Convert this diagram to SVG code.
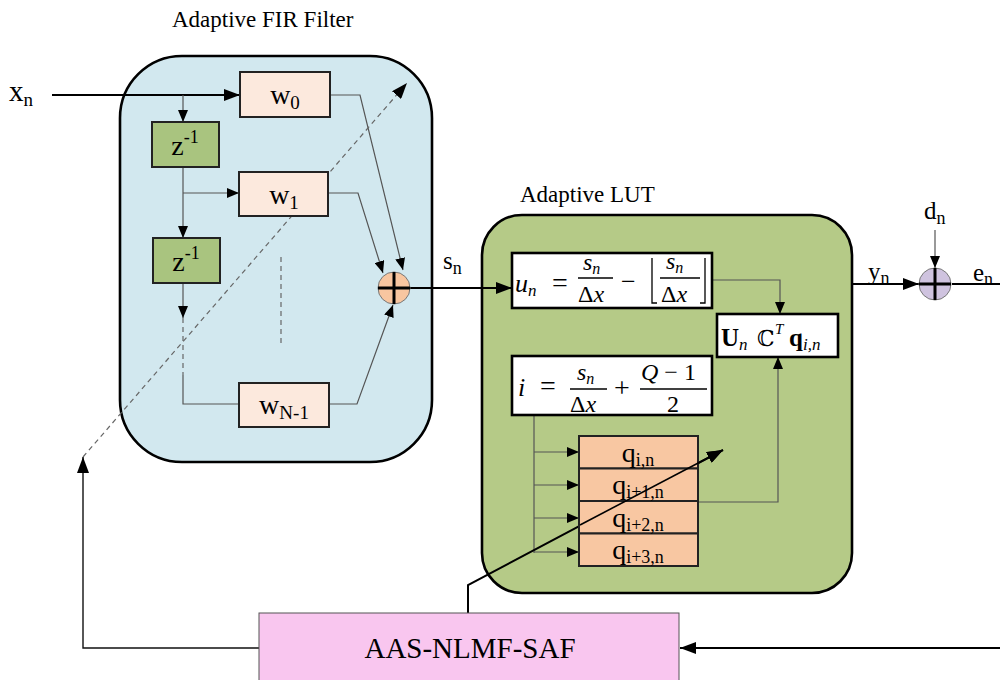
<svg xmlns="http://www.w3.org/2000/svg" width="1000" height="680" viewBox="0 0 1000 680">
<style>
text{font-family:"Liberation Serif","Times New Roman",serif;fill:#000}
.lbl{font-size:23px}
.it{font-style:italic}
.thin{fill:none;stroke:#555;stroke-width:1.2}
.thick{fill:none;stroke:#000;stroke-width:2}
.dash{fill:none;stroke:#666;stroke-width:1.2;stroke-dasharray:5,4}
.box{stroke:#222;stroke-width:2}
.fbox{fill:#fff;stroke:#000;stroke-width:2.6}
.bar{stroke:#000;stroke-width:1.3}
</style>
<defs>
<marker id="a" viewBox="0 0 12 10" refX="12" refY="5" markerWidth="12" markerHeight="10" orient="auto" markerUnits="userSpaceOnUse"><path d="M0,0L12,5L0,10z" fill="#000"/></marker>
<marker id="b" viewBox="0 0 16 12" refX="16" refY="6" markerWidth="16" markerHeight="12" orient="auto" markerUnits="userSpaceOnUse"><path d="M0,0L16,6L0,12z" fill="#000"/></marker>
</defs>

<text class="lbl" x="172" y="27">Adaptive FIR Filter</text>
<text class="lbl" x="520" y="202">Adaptive LUT</text>

<g id="fir">
<rect x="120" y="56" width="312" height="406" rx="62" fill="#D2E8EF" stroke="#000" stroke-width="2.6"/>
</g>
<g id="lut">
<rect x="482" y="215" width="370" height="378" rx="40" fill="#B5CA87" stroke="#000" stroke-width="2.6"/>
</g>

<g id="connectors">
<path class="thick" d="M52,95H240" marker-end="url(#b)"/>
<path class="thin" d="M183,95V122" marker-end="url(#a)"/>
<path class="thin" d="M183,167V238" marker-end="url(#a)"/>
<path class="thin" d="M183,193H239" marker-end="url(#a)"/>
<path class="thin" d="M183,283V318" marker-end="url(#a)"/>
<path class="dash" d="M183,318V375"/>
<path class="thin" d="M183,375V404H239"/>
<path class="dash" d="M281,257V347"/>
<path class="thin" d="M330,95H360L403,270" marker-end="url(#a)"/>
<path class="thin" d="M328,193H358L383,273" marker-end="url(#a)"/>
<path class="thin" d="M329,404H357L393,305" marker-end="url(#a)"/>
<path class="dash" d="M83,457L407,83" marker-end="url(#b)"/>
<path class="thick" d="M410,288H512" marker-end="url(#b)"/>
<path class="thin" d="M712,280H780V314" marker-end="url(#a)"/>
<path class="thin" d="M698,502H778V357" marker-end="url(#a)"/>
<path class="thin" d="M534,415V553"/>
<path class="thin" d="M534,452H579" marker-end="url(#a)"/>
<path class="thin" d="M534,485H579" marker-end="url(#a)"/>
<path class="thin" d="M534,518H579" marker-end="url(#a)"/>
<path class="thin" d="M534,552H579" marker-end="url(#a)"/>
<path class="thick" d="M468,613V585L723,450" marker-end="url(#b)" stroke-width="1.6"/>
<path d="M259,648H83V457" fill="none" stroke="#111" stroke-width="1.4" marker-end="url(#b)"/>
<path class="thick" d="M1000,648H680" marker-end="url(#b)"/>
<path class="thick" d="M852,284H919" marker-end="url(#b)"/>
<path class="thin" d="M935,230V268" marker-end="url(#a)"/>
<path class="thick" d="M952,284H1000"/>
</g>

<text x="9" y="101" font-size="29">x<tspan font-size="19" dy="5">n</tspan></text>
<text x="443" y="269" font-size="25">s<tspan font-size="18" dy="5">n</tspan></text>
<text x="868" y="280" font-size="25">y<tspan font-size="18" dy="4">n</tspan></text>
<text x="924" y="219" font-size="25">d<tspan font-size="18" dy="5">n</tspan></text>
<text x="973" y="281" font-size="25">e<tspan font-size="18" dy="4">n</tspan></text>

<g id="w0"><rect class="box" x="240" y="72" width="90" height="45" fill="#FCE9DD"/><text x="285" y="104" font-size="28" text-anchor="middle">w<tspan font-size="19" dy="5">0</tspan></text></g>
<g id="w1"><rect class="box" x="239" y="172" width="89" height="44" fill="#FCE9DD"/><text x="284" y="204" font-size="28" text-anchor="middle">w<tspan font-size="19" dy="5">1</tspan></text></g>
<g id="wN1"><rect class="box" x="239" y="383" width="90" height="44" fill="#FCE9DD"/><text x="284" y="414" font-size="28" text-anchor="middle">w<tspan font-size="19" dy="5">N-1</tspan></text></g>
<g id="z1"><rect class="box" x="152" y="122" width="67" height="45" fill="#A9C47F"/><text x="185" y="155" font-size="28" text-anchor="middle">z<tspan font-size="18" dy="-12">-1</tspan></text></g>
<g id="z2"><rect class="box" x="153" y="238" width="67" height="45" fill="#A9C47F"/><text x="186" y="271" font-size="28" text-anchor="middle">z<tspan font-size="18" dy="-12">-1</tspan></text></g>

<g id="sum1"><circle cx="394" cy="288" r="16" fill="#F8C6A0" stroke="#777" stroke-width="1"/><path d="M378,288H410M394,272V304" stroke="#000" stroke-width="3"/></g>
<g id="sum2"><circle cx="935" cy="284" r="16" fill="#CFC3DF" stroke="#777" stroke-width="1"/><path d="M919,284H951M935,268V300" stroke="#000" stroke-width="3"/></g>

<g id="f1">
<rect class="fbox" x="512" y="253" width="200" height="55"/>
<text x="515" y="292" font-size="26" class="it">u<tspan font-size="17" dy="4">n</tspan></text>
<text x="552" y="292" font-size="28">=</text>
<text x="583" y="270" font-size="24" class="it">s<tspan font-size="16" dy="4">n</tspan></text>
<line class="bar" x1="578" y1="278" x2="613" y2="278"/>
<text x="578" y="302" font-size="24">Δ<tspan class="it">x</tspan></text>
<text x="621" y="290" font-size="26">−</text>
<path d="M652,258V303H657M705,258V303H700" fill="none" stroke="#000" stroke-width="1.3"/>
<text x="666" y="269" font-size="24" class="it">s<tspan font-size="16" dy="4">n</tspan></text>
<line class="bar" x1="660" y1="278" x2="700" y2="278"/>
<text x="661" y="302" font-size="24">Δ<tspan class="it">x</tspan></text>
</g>

<g id="f2">
<rect class="fbox" x="512" y="356" width="200" height="59"/>
<text x="518" y="396" font-size="26" class="it">i</text>
<text x="540" y="395" font-size="28">=</text>
<text x="577" y="380" font-size="24" class="it">s<tspan font-size="16" dy="4">n</tspan></text>
<line class="bar" x1="570" y1="389" x2="607" y2="389"/>
<text x="570" y="412" font-size="24">Δ<tspan class="it">x</tspan></text>
<text x="614" y="397" font-size="28">+</text>
<text x="641" y="380" font-size="24"><tspan class="it">Q</tspan> − 1</text>
<line class="bar" x1="640" y1="389" x2="707" y2="389"/>
<text x="667" y="412" font-size="24">2</text>
</g>

<g id="ucq">
<rect class="fbox" x="717" y="314" width="121" height="43"/>
<text x="721" y="346" font-size="25" font-weight="bold">U<tspan font-weight="normal" class="it" font-size="17" dy="4">n</tspan></text>
<text x="757" y="346" font-size="22" style="font-family:'DejaVu Serif',serif">ℂ</text>
<text x="775" y="334" font-size="15" class="it">T</text>
<text x="789" y="346" font-size="25" font-weight="bold">q<tspan font-weight="normal" class="it" font-size="17" dy="4">i,n</tspan></text>
</g>

<g id="qtable">
<rect class="box" x="579" y="436" width="119" height="32.5" fill="#F8C7A2"/>
<rect class="box" x="579" y="468.5" width="119" height="32.5" fill="#F8C7A2"/>
<rect class="box" x="579" y="501" width="119" height="32.5" fill="#F8C7A2"/>
<rect class="box" x="579" y="533.5" width="119" height="32.5" fill="#F8C7A2"/>
<text x="638" y="462" font-size="28" text-anchor="middle">q<tspan font-size="18" dy="4">i,n</tspan></text>
<text x="638" y="494" font-size="28" text-anchor="middle">q<tspan font-size="18" dy="4">i+1,n</tspan></text>
<text x="638" y="527" font-size="28" text-anchor="middle">q<tspan font-size="18" dy="4">i+2,n</tspan></text>
<text x="638" y="559" font-size="28" text-anchor="middle">q<tspan font-size="18" dy="4">i+3,n</tspan></text>
</g>

<g id="diagarrow-over"><path d="M580,525L723,450" fill="none" stroke="#000" stroke-width="1.6" marker-end="url(#b)"/></g>

<g id="aas">
<rect x="259" y="613" width="420" height="80" fill="#F9C6EF" stroke="#555" stroke-width="1"/>
<text x="470" y="658" font-size="29" text-anchor="middle">AAS-NLMF-SAF</text>
</g>
</svg>
